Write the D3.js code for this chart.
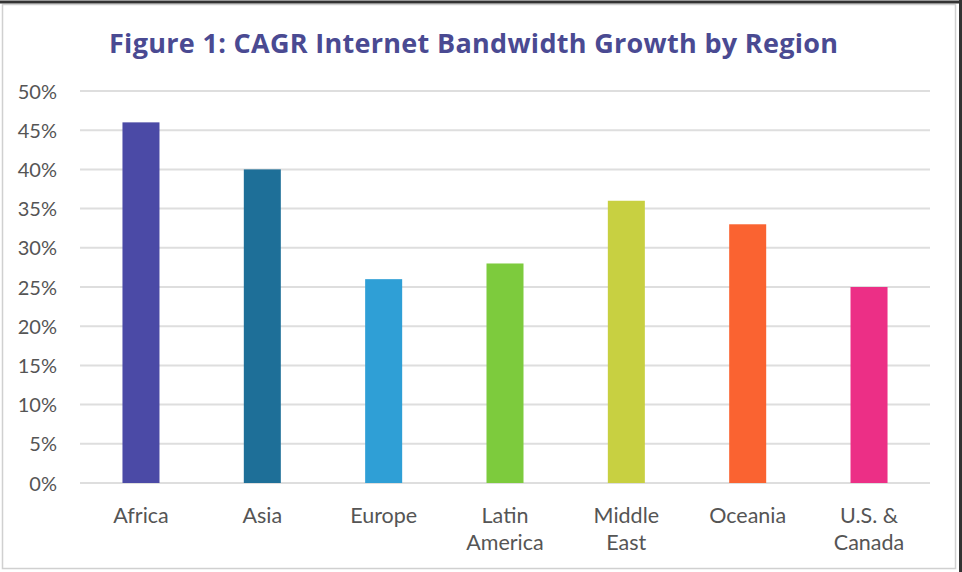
<!DOCTYPE html>
<html><head><meta charset="utf-8">
<script src="https://cdn.jsdelivr.net/npm/d3@7"></script>
<style>body{margin:0;background:#fff}svg{display:block}</style>
</head><body>
<svg id="c" width="962" height="572"></svg>
<script>
const title = "Figure 1: CAGR Internet Bandwidth Growth by Region";
const regions = ["Africa","Asia","Europe","Latin America","Middle East","Oceania","U.S. & Canada"];
const labelLines = [["Africa"],["Asia"],["Europe"],["Latin","America"],["Middle","East"],["Oceania"],["U.S. &","Canada"]];
const cagr = [46,40,26,28,36,33,25];
const barColors = ["#4b4aa6","#1e6f98","#2f9fd6","#7dcb3d","#c8d041","#fa6331","#ec2f86"];
const yTicks = [0,5,10,15,20,25,30,35,40,45,50];

const svg = d3.select("#c");
// frame
svg.append("rect").attr("x",2.5).attr("y",4.5).attr("width",953).attr("height",564)
  .attr("fill","none").attr("stroke","#d0d0d0").attr("stroke-width",1.5);
svg.append("line").attr("x1",0).attr("x2",962).attr("y1",2).attr("y2",2).attr("stroke","#333").attr("stroke-width",3);
svg.append("line").attr("x1",960.5).attr("x2",960.5).attr("y1",0).attr("y2",572).attr("stroke","#333").attr("stroke-width",3);

const x = d3.scaleBand().domain(regions).range([80,930]).paddingInner(0.695).paddingOuter(0.35);
const y = d3.scaleLinear().domain([0,50]).range([483,91]);

svg.append("text").attr("x",109).attr("y",53).attr("text-anchor","start")
  .attr("font-family","'Open Sans', sans-serif").attr("font-weight","bold").attr("font-size",27)
  .attr("textLength",729).attr("lengthAdjust","spacing")
  .attr("fill","#4a4a92").text(title);

// y axis labels
const yAxis = d3.axisLeft(y).tickValues(yTicks).tickFormat(d=>d+"%").tickSize(0).tickPadding(0);
const ga = svg.append("g").attr("transform","translate(57,0)").call(yAxis);
ga.select(".domain").remove();
ga.selectAll("text").attr("font-family","Lato, sans-serif").attr("font-size",20).attr("fill","#555").attr("dy","0.35em");

// grid
svg.append("g").selectAll("line").data(yTicks).join("line")
  .attr("x1",80).attr("x2",930).attr("y1",d=>y(d)).attr("y2",d=>y(d))
  .attr("stroke","#dedede").attr("stroke-width",2);

svg.append("g").selectAll("rect").data(regions).join("rect")
  .attr("x",d=>x(d)).attr("width",x.bandwidth())
  .attr("y",(d,i)=>y(cagr[i])).attr("height",(d,i)=>y(0)-y(cagr[i]))
  .attr("fill",(d,i)=>barColors[i]);

const xl = svg.append("g");
regions.forEach((r,i)=>{
  const t = xl.append("text").attr("x",x(r)+x.bandwidth()/2).attr("y",523).attr("text-anchor","middle")
    .attr("font-family","Lato, sans-serif").attr("font-size",21.5).attr("fill","#555");
  labelLines[i].forEach((ln,j)=>t.append("tspan").attr("x",x(r)+x.bandwidth()/2).attr("dy",j?27:0).text(ln));
});
</script>
</body></html>
